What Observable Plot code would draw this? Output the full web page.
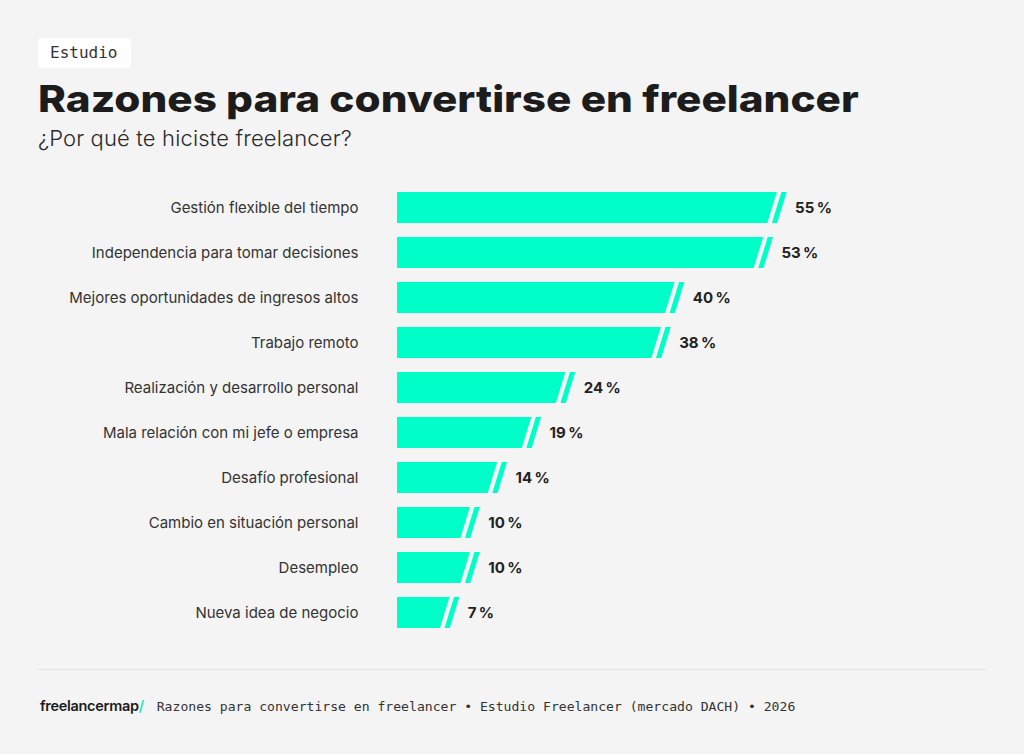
<!DOCTYPE html>
<html>
<head>
<meta charset="utf-8">
<script src="https://cdn.jsdelivr.net/npm/d3@7"></script>
<script src="https://cdn.jsdelivr.net/npm/@observablehq/plot@0.6"></script>
<style>
  html, body { margin: 0; padding: 0; background: #f4f4f4; }
  body { width: 1024px; height: 754px; position: relative; overflow: hidden; font-family: Inter, "Noto Sans", sans-serif; color: #222; }
  .tag { position: absolute; left: 38px; top: 38px; width: 93px; height: 30px; background: #fff; border-radius: 4px;
         font-family: "DejaVu Sans Mono", "Liberation Mono", monospace; font-size: 16px; color: #333;
         line-height: 30px; box-sizing: border-box; padding-left: 12px; }
  h1 { position: absolute; left: 38px; top: 77px; margin: 0; font-size: 37px; font-weight: 800; letter-spacing: 0px; color: #1c1c1c; line-height: 44px; white-space: nowrap; transform-origin: 0 50%; transform: scaleX(1.142); }
  .sub { position: absolute; left: 38px; top: 125px; margin: 0; font-size: 22px; font-weight: 300; letter-spacing: 0.15px; color: #2a2a2a; white-space: nowrap; }
  #chart { position: absolute; left: 0; top: 170px; }
  .rule { position: absolute; left: 38px; top: 669px; width: 948px; height: 1px; background: #e3e3e3; }
  .foot { position: absolute; left: 40px; top: 695px; white-space: nowrap; }
  .logo { font-size: 14.5px; font-weight: 600; color: #1c1c1c; letter-spacing: -0.3px; }
  .logo span { color: #00e6b4; font-weight: 500; }
  .src { font-family: "DejaVu Sans Mono", "Liberation Mono", monospace; font-size: 13.1px; color: #333; margin-left: 13px; }
</style>
</head>
<body>
<div class="tag">Estudio</div>
<h1>Razones para convertirse en freelancer</h1>
<div class="sub">¿Por qué te hiciste freelancer?</div>
<div id="chart"></div>
<div class="rule"></div>
<div class="foot"><span class="logo">freelancermap<span>/</span></span><span class="src">Razones para convertirse en freelancer • Estudio Freelancer (mercado DACH) • 2026</span></div>
<script>
const categories = [
  "Gestión flexible del tiempo",
  "Independencia para tomar decisiones",
  "Mejores oportunidades de ingresos altos",
  "Trabajo remoto",
  "Realización y desarrollo personal",
  "Mala relación con mi jefe o empresa",
  "Desafío profesional",
  "Cambio en situación personal",
  "Desempleo",
  "Nueva idea de negocio"
];
const percentages = [55, 53, 40, 38, 24, 19, 14, 10, 10, 7];

const data = categories.map((label, i) => ({label, value: percentages[i]}));
const barColor = "#00ffc8";

function slantBars(index, scales, values, dims, context) {
  const g = d3.create("svg:g");
  const ys = scales.y;
  const bw = typeof ys.bandwidth === "function" ? ys.bandwidth() : scales.scales.y.bandwidth;
  const X1 = values.x1, X2 = values.x2, Y = values.y;
  const s = 4.75;
  for (const i of index) {
    const x0 = X1[i], xv = X2[i], y0 = Y[i], y1 = y0 + bw;
    g.append("path")
      .attr("d", `M${x0},${y0}H${xv + s}L${xv - s},${y1}H${x0}Z`)
      .attr("fill", barColor);
    g.append("path")
      .attr("d", `M${xv + 9.3},${y0}H${xv + 14.6}L${xv + 5.1},${y1}H${xv - 0.2}Z`)
      .attr("fill", barColor);
  }
  return g.node();
}

const chart = Plot.plot({
  width: 1024,
  height: 470,
  marginLeft: 397,
  marginRight: 217.8,
  marginTop: 21.5,
  marginBottom: 11.5,
  style: {background: "transparent", fontFamily: "Inter, 'Noto Sans', sans-serif"},
  x: {domain: [0, 60], axis: null},
  y: {domain: categories, paddingInner: 0.313, paddingOuter: 0, label: null},
  marks: [
    Plot.axisY({tickSize: 0, tickPadding: 39, fontSize: 15, fill: "#333", label: null}),
    Plot.barX(data, {y: "label", x: "value", fill: barColor, render: slantBars}),
    Plot.text(data, {
      y: "label", x: "value", dx: 22.5, textAnchor: "start",
      text: d => d.value + "\u2009%", fontSize: 15, fontWeight: 700, fill: "#222"
    })
  ]
});
document.getElementById("chart").appendChild(chart);
</script>
</body>
</html>
